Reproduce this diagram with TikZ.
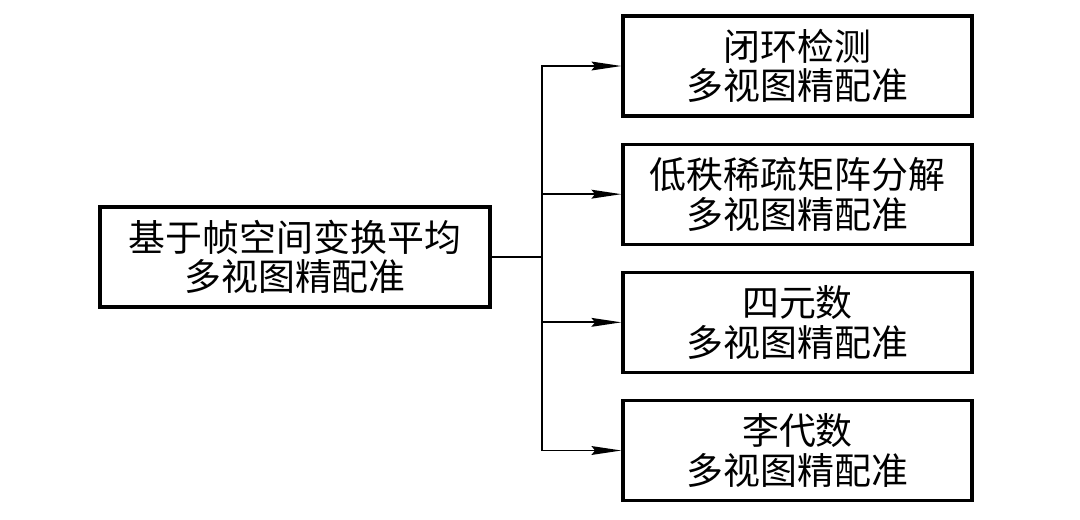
\documentclass[tikz,border=0pt]{standalone}
\usepackage{fontspec}
\newfontfamily\cjk{Noto Sans CJK SC}
\usetikzlibrary{arrows.meta, positioning}
\tikzset{
  methodBox/.style={draw, line width=1.8pt, align=center, inner sep=0pt,
    minimum height=2cm, font=\cjk\fontsize{21}{22.5}\selectfont},
  branchLine/.style={line width=1.1pt},
}

\begin{document}
\begin{tikzpicture}[>={Stealth[length=17pt, width=5pt, inset=2pt]}, node distance=0.5cm]
\useasboundingbox (0,0) rectangle (21.6,-10.38);
\node[methodBox, minimum width=7.8cm] (m0) at (5.9,-5.14) {基于帧空间变换平均\\多视图精配准};
\node[methodBox, minimum width=6.98cm] (m1) at (15.95,-1.32) {闭环检测\\多视图精配准};
\node[methodBox, minimum width=6.98cm, below=of m1] (m2) {低秩稀疏矩阵分解\\多视图精配准};
\node[methodBox, minimum width=6.98cm, below=of m2] (m3) {四元数\\多视图精配准};
\node[methodBox, minimum width=6.98cm, below=of m3] (m4) {李代数\\多视图精配准};
\coordinate[right=1cm of m0] (split);
\draw [branchLine] (m0.east) -- (split);
\draw [branchLine, ->] (split) |- (m1.west);
\draw [branchLine, ->] (split) |- (m2.west);
\draw [branchLine, ->] (split) |- (m3.west);
\draw [branchLine, ->] (split) |- (m4.west);
\end{tikzpicture}
\end{document}
